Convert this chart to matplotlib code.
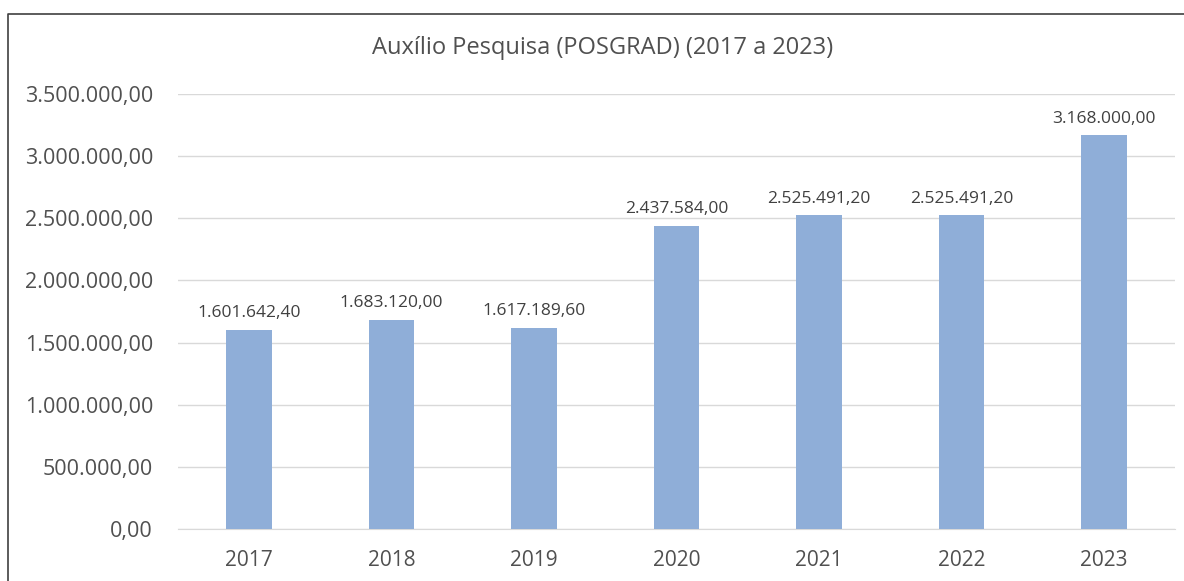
import matplotlib
matplotlib.use('Agg')
import matplotlib.pyplot as plt
from matplotlib.lines import Line2D

# dados
anos = ['2017', '2018', '2019', '2020', '2021', '2022', '2023']
valores = [1601642.40, 1683120.00, 1617189.60, 2437584.00, 2525491.20, 2525491.20, 3168000.00]
ticks_y = [0, 500000, 1000000, 1500000, 2000000, 2500000, 3000000, 3500000]


def fmt_br(v):
    s = f"{v:,.2f}"
    return s.replace(',', 'X').replace('.', ',').replace('X', '.')


plt.rcParams['font.family'] = ['Open Sans', 'DejaVu Sans']
cinza = '#505050'

fig = plt.figure(figsize=(11.84, 5.81), dpi=100)
ax = fig.add_axes([0.1503, 0.0895, 0.8421, 0.7485])

x = range(len(anos))
ax.bar(x, valores, width=0.32, color='#8FAED8', zorder=3)

for i, v in zip(x, valores):
    ax.text(i, v + 70000, fmt_br(v), ha='center', va='bottom', fontsize=12.5, color='#404040')

ax.set_xlim(-0.5, len(anos) - 0.5)
ax.set_ylim(0, 3500000)
ax.set_yticks(ticks_y)
ax.set_yticklabels([fmt_br(t) for t in ticks_y], fontsize=15.5, color=cinza)
ax.set_xticks(list(x))
ax.set_xticklabels(anos, fontsize=15, color=cinza)
ax.tick_params(axis='both', length=0)
ax.tick_params(axis='x', pad=15)
ax.tick_params(axis='y', pad=18)
ax.grid(axis='y', color='#d9d9d9', linewidth=1, zorder=0)
for s in ['top', 'right', 'left']:
    ax.spines[s].set_visible(False)
ax.spines['bottom'].set_color('#d9d9d9')

fig.text(0.5085, 0.918, 'Auxílio Pesquisa (POSGRAD) (2017 a 2023)', ha='center', va='center',
         fontsize=17, color=cinza)

# moldura (esquerda e topo)
x0 = 8 / 1184
y0 = 1 - 14 / 581
fig.lines.append(Line2D([x0, x0, 1.0], [0.0, y0, y0], transform=fig.transFigure,
                        color='#404040', linewidth=1.2))

fig.savefig('out.png', dpi=100)
